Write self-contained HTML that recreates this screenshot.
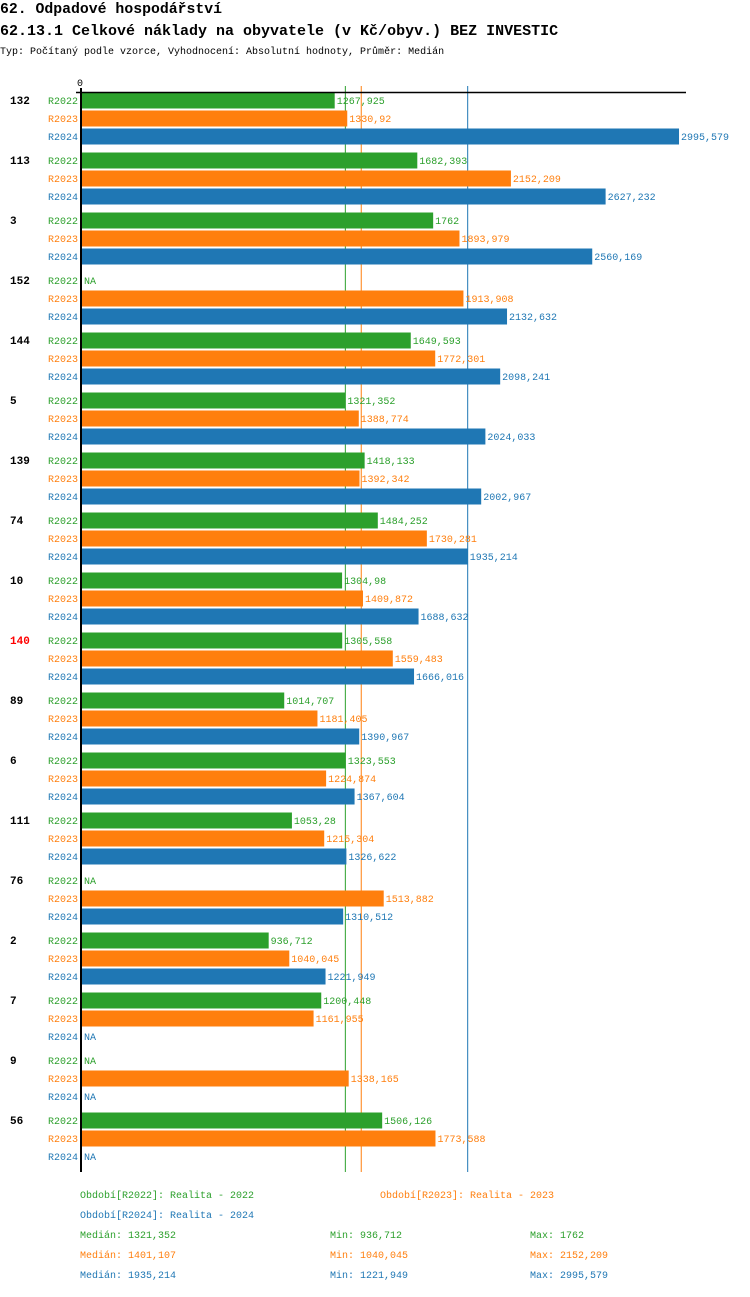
<!DOCTYPE html>
<html><head><meta charset="utf-8">
<style>
html,body{margin:0;padding:0;background:#fff;}
body{width:750px;height:1292px;overflow:hidden;}
svg text{font-family:"Liberation Mono",monospace;}
</style></head>
<body>
<svg id="chart" width="750" height="1292" xmlns="http://www.w3.org/2000/svg">
<text x="0" y="13" font-size="14.8" font-weight="bold">62. Odpadové hospodářství</text>
<text x="0" y="35" font-size="15" font-weight="bold">62.13.1 Celkové náklady na obyvatele (v Kč/obyv.) BEZ INVESTIC</text>
<text x="0" y="54" font-size="10">Typ: Počítaný podle vzorce, Vyhodnocení: Absolutní hodnoty, Průměr: Medián</text>
<text x="77" y="86" font-size="10">0</text>
<g id="lines"></g>
<g id="marks"></g>
<line x1="76" y1="92.5" x2="686" y2="92.5" stroke="#000" stroke-width="1.5"/>
<line x1="81" y1="88" x2="81" y2="1172" stroke="#000" stroke-width="2"/>
<g id="legend" font-size="10"></g>
</svg>
<script>
const categories = ["132","113","3","152","144","5","139","74","10","140","89","6","111","76","2","7","9","56"];
const r2022 = [1267.925,1682.393,1762,null,1649.593,1321.352,1418.133,1484.252,1304.98,1305.558,1014.707,1323.553,1053.28,null,936.712,1200.448,null,1506.126];
const r2023 = [1330.92,2152.209,1893.979,1913.908,1772.301,1388.774,1392.342,1730.281,1409.872,1559.483,1181.405,1224.874,1215.304,1513.882,1040.045,1161.955,1338.165,1773.588];
const r2024 = [2995.579,2627.232,2560.169,2132.632,2098.241,2024.033,2002.967,1935.214,1688.632,1666.016,1390.967,1367.604,1326.622,1310.512,1221.949,null,null,null];
const seriesNames = ["R2022","R2023","R2024"];
const medians = [1321.352,1401.107,1935.214];
const mins = [936.712,1040.045,1221.949];
const maxs = [1762,2152.209,2995.579];
const highlight = "140";

const colors = ["#2ca02c","#ff7f0e","#1f77b4"];
const X0 = 82, SCALE = 0.1993;
const x = v => X0 + v * SCALE;
const groupY = i => 92 + 60 * i;
const NS = "http://www.w3.org/2000/svg";
const marks = document.getElementById("marks");
const linesG = document.getElementById("lines");
function mk(tag, attrs, parent, txt){
  const e = document.createElementNS(NS, tag);
  for (const k in attrs) e.setAttribute(k, attrs[k]);
  if (txt !== undefined) e.textContent = txt;
  parent.appendChild(e);
  return e;
}
const fmt = v => String(v).replace(".", ",");
const series = [r2022, r2023, r2024];
const slug = s => s.toLowerCase();

medians.forEach((m, s) => {
  const l = mk("line", {x1: x(m), y1: 86, x2: x(m), y2: 1172, stroke: colors[s], "stroke-width": 1}, linesG);
  
  
});

categories.forEach((c, i) => {
  const gy = groupY(i);
  const lab = mk("text", {x: 10, y: gy + 12, "font-size": 11, "font-weight": "bold", fill: c === highlight ? "#ff0000" : "#000"}, marks, c);
  
  
  series.forEach((arr, s) => {
    const y = gy + s * 18;
    const sl = mk("text", {x: 78, y: y + 12, "font-size": 10, fill: colors[s], "text-anchor": "end"}, marks, seriesNames[s]);
    
    
    const v = arr[i];
    if (v === null) {
      const na = mk("text", {x: 84, y: y + 12, "font-size": 10, fill: colors[s]}, marks, "NA");
      
      
      return;
    }
    const r = mk("rect", {x: X0, y: y + 0.5, width: x(v) - X0, height: 16, fill: colors[s]}, marks);
    
    
    const vl = mk("text", {x: x(v) + 2, y: y + 12, "font-size": 10, fill: colors[s]}, marks, fmt(v));
    
    
  });
});

const lg = document.getElementById("legend");
const legendItems = [
  [80, 1198, 0, "Období[R2022]: Realita - 2022"],
  [380, 1198, 1, "Období[R2023]: Realita - 2023"],
  [80, 1218, 2, "Období[R2024]: Realita - 2024"]
];
legendItems.forEach(it => {
  const t = mk("text", {x: it[0], y: it[1], fill: colors[it[2]]}, lg, it[3]);
  
  
});
series.forEach((arr, s) => {
  const y = 1238 + 20 * s;
  const a = mk("text", {x: 80, y: y, fill: colors[s]}, lg, "Medián: " + fmt(medians[s]));
  
  
  const b = mk("text", {x: 330, y: y, fill: colors[s]}, lg, "Min: " + fmt(mins[s]));
  
  
  const d = mk("text", {x: 530, y: y, fill: colors[s]}, lg, "Max: " + fmt(maxs[s]));
  
  
});
</script>
</body></html>
